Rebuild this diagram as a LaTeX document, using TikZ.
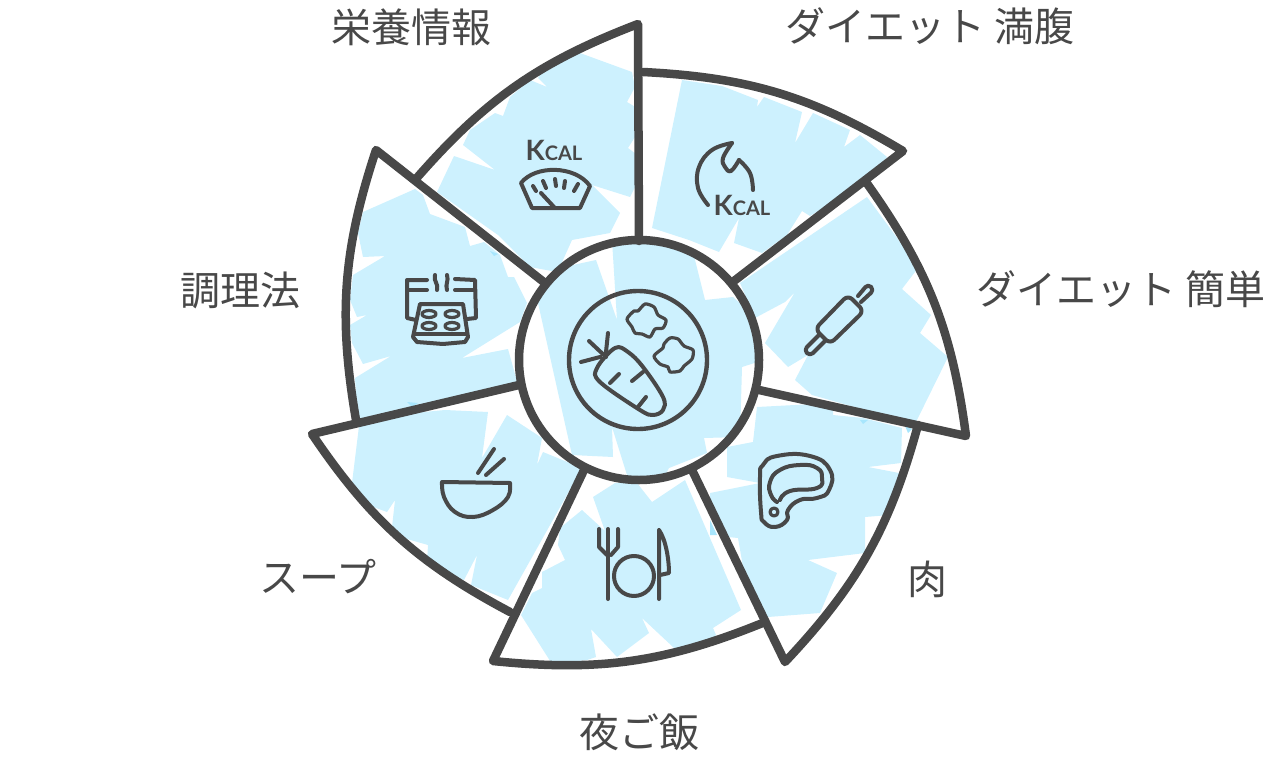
\documentclass[tikz,border=0pt]{standalone}
\usepackage{fontspec}
\newfontfamily\cjk{Noto Sans CJK JP}
\newfontfamily\kcalfont[Scale=1]{Lato Bold}
\definecolor{patchblue}{HTML}{CDF1FE}
\definecolor{spotblue}{HTML}{A8E6FD}
\definecolor{inkgray}{HTML}{484848}
\tikzset{
  patch/.style={fill=patchblue},
  blade/.style={draw=inkgray,line width=8.5pt,line join=round,line cap=round},
  icon/.style={draw=inkgray,line width=4pt,line join=round,line cap=round},
  thinicon/.style={draw=inkgray,line width=3.2pt,line join=round,line cap=round},
  lab/.style={text=inkgray,font=\cjk\fontsize{40}{40}\selectfont,inner sep=0pt},
  kcal/.style={text=inkgray,font=\kcalfont\fontsize{28}{28}\selectfont,inner sep=0pt}
}
\newcommand{\bladefill}[5]{%
  \begin{scope}
    \clip (#1) -- (#2) to[bend right=14] (#3) -- (#4) -- cycle;
    \fill[patch] #5 -- cycle;
  \end{scope}}
\begin{document}
\begin{tikzpicture}[x=1pt,y=-1pt]
    \useasboundingbox (0,0) rectangle (1280,760);

    \coordinate (centre) at (639,360);
    \foreach \n/\p in {1/{639,241},2/{545,283},3/{519,385},4/{585,468},5/{692,470},6/{759,390},7/{734,281}}
    \coordinate (s\n) at (\p);
    \foreach \n/\p in {1/{638,24},2/{376,150},3/{312,434},4/{493,661},5/{785,662},6/{966,436},7/{903,151}}
    \coordinate (t\n) at (\p);
    \foreach \n/\p in {1/{415,180},2/{356,420},3/{510,612},4/{765,622},5/{918,425},6/{866,182},7/{643,72}}
    \coordinate (e\n) at (\p);

    % patches
    \bladefill{s1}{t1}{e1}{s2}{(558,45) -- (538,78) -- (547,87) -- (530,80) -- (510,97) -- (503,116) -- (495,113) -- (470,130) -- (463,145) -- (495,170) -- (454,156) -- (437,192) -- (498,235) -- (530,267) -- (557,272) -- (563,260) -- (572,240) -- (610,233) -- (620,213) -- (592,185) -- (630,197) -- (648,162) -- (640,157) -- (628,148) -- (635,137) -- (637,108) -- (627,102) -- (635,87) -- (632,72)}
    \bladefill{s2}{t2}{e2}{s3}{(415,189) -- (363,212) -- (358,233) -- (363,257) -- (385,256) -- (353,275) -- (350,300) -- (357,317) -- (367,315) -- (350,325) -- (352,343) -- (363,364) -- (391,356) -- (355,378) -- (358,425) -- (520,392) -- (508,349) -- (462,358) -- (520,322) -- (527,303) -- (514,277) -- (508,277) -- (500,255) -- (484,242) -- (470,246) -- (465,227) -- (430,214) -- (423,195)}
    \bladefill{s3}{t3}{e3}{s4}{(360,418) -- (445,410) -- (488,412) -- (482,458) -- (507,415) -- (542,438) -- (537,465) -- (543,452) -- (582,468) -- (508,600) -- (471,585) -- (477,555) -- (464,580) -- (427,562) -- (428,545) -- (400,537) -- (392,527) -- (395,500) -- (387,512) -- (368,505) -- (352,483)}
    \bladefill{s4}{t4}{e4}{s5}{(593,497) -- (615,483) -- (637,483) -- (652,502) -- (685,480) -- (713,545) -- (741,610) -- (713,628) -- (716,635) -- (700,655) -- (683,655) -- (673,647) -- (642,618) -- (649,633) -- (617,657) -- (591,629) -- (596,657) -- (587,660) -- (552,664) -- (521,615) -- (532,593) -- (542,588) -- (542,572) -- (565,560) -- (558,545) -- (560,528) -- (582,510) -- (605,531)}
    \bladefill{s5}{t5}{e5}{s6}{(757,407) -- (753,442) -- (727,447) -- (727,477) -- (760,483) -- (710,493) -- (710,533) -- (728,537) -- (738,538) -- (750,607) -- (753,618) -- (768,617) -- (820,613) -- (837,573) -- (808,560) -- (865,553) -- (865,517) -- (890,515) -- (899,473) -- (868,467) -- (901,463) -- (902,428) -- (863,418) -- (833,415) -- (833,403)}
    \bladefill{s6}{t6}{e6}{s7}{(740,283) -- (867,197) -- (895,235) -- (918,268) -- (902,289) -- (931,315) -- (920,333) -- (948,357) -- (915,424) -- (812,395) -- (795,380) -- (808,355) -- (788,367) -- (765,343) -- (795,292) -- (785,302) -- (755,318)}
    \bladefill{s7}{t7}{e7}{s1}{(682,80) -- (722,86) -- (758,100) -- (757,107) -- (764,97) -- (802,112) -- (795,143) -- (813,113) -- (850,130) -- (844,147) -- (860,135) -- (887,157) -- (870,180) -- (810,216) -- (802,211) -- (787,235) -- (762,253) -- (734,243) -- (739,218) -- (719,252) -- (689,240) -- (652,228)}
    \foreach \ax/\ay/\bx/\by/\cx/\cy in {407/402/418/403/412/407,710/520/717/535/710/535,860/420/868/420/863/424,905/426/912/429/908/433,490/251/498/254/494/256}
    \fill[spotblue] (\ax,\ay) -- (\bx,\by) -- (\cx,\cy) -- cycle;

    % middle disc
    \fill[white] (centre) circle[radius=120];
    \begin{scope}
      \clip (centre) circle[radius=120];
      \fill[patch] (596,260) -- (617,320) -- (612,240) -- (690,240) -- (705,300) -- (733,297) -- (770,330) -- (770,358) -- (742,367) -- (740,437) -- (704,438) -- (707,453) -- (669,468) -- (660,485) -- (640,485) -- (627,475) -- (612,427) -- (613,457) -- (572,455) -- (538,303) -- (550,270) -- cycle;
    \end{scope}

    % blades
    \foreach \a/\b in {1/2,2/3,3/4,4/5,5/6,6/7,7/1}
    \draw[blade] (s\a) -- (t\a) to[bend right=14] (e\a);
    \draw[blade] (centre) circle[radius=120];

    % plate
    \draw[icon,line width=4.4pt] (638,360) circle[radius=69];
    \draw[icon] plot[smooth cycle,tension=.6] coordinates {(615,348) (628,352) (643,367) (663,397) (663,410) (653,415) (640,410) (600,382) (597,368)};
    \draw[icon] (610,383) -- (619,374) (632,381) -- (643,372) (638,407) -- (646,397);
    \draw[icon] (608,333) -- (606,352) (589,341) -- (606,357) (581,362) -- (600,357);
    \draw[thinicon] plot[smooth cycle,tension=.45] coordinates {(634,311) (627,319) (632,327) (635,333) (642,334) (650,337) (655,329) (663,328) (666,320) (658,315) (654,307) (645,304) (638,311)};
    \draw[thinicon] plot[smooth cycle,tension=.45] coordinates {(663,348) (654,356) (660,364) (668,367) (670,372) (680,371) (684,366) (692,359) (693,350) (684,346) (678,339) (670,338) (664,344)};

    % scale
    \node[kcal] (kcala) at (554,150) {K{\fontsize{20}{20}\selectfont CAL}};
    \draw[icon] (521,183) .. controls (535,165) and (575,165) .. (590,186) -- (580,208) -- (532,208) -- cycle;
    \draw[icon] (533,186) -- (536,191) (543,181) -- (546,188) (555,179) -- (556,186) (565,181) -- (564,188) (578,184) -- (574,191) (541,193) -- (554,207);

    % flame
    \draw[icon] plot[smooth,tension=.7] coordinates {(708,205) (698,188) (699,167) (712,150) (732,143)};
    \draw[icon] plot[smooth,tension=.7] coordinates {(732,143) (723,158) (725,167) (731,171) (739,160)};
    \draw[icon] plot[smooth,tension=.7] coordinates {(739,160) (750,173) (753,190)};
    \node[kcal] (kcalb) at (742,205) {K{\fontsize{20}{20}\selectfont CAL}};

    % rolling pin
    \draw[icon,rounded corners=6pt] (848,295) -- (864,311) -- (830,344) -- (815,329) -- cycle;
    \draw[icon,rounded corners=4pt] (858,296) -- (868,284) -- (874,290) -- (861,302);
    \draw[icon,rounded corners=4pt] (825,341) -- (810,356) -- (804,350) -- (819,335);

    % oven
    \draw[icon] (427,280) -- (407,280) -- (407,318) -- (416,320) (455,279) -- (475,280) -- (476,318) -- (467,319);
    \draw[icon] (408,290) -- (427,290) (455,290) -- (475,290);
    \draw[icon] (435,275) .. controls (433,281) and (439,284) .. (437,290) (447,275) .. controls (449,281) and (445,284) .. (447,290);
    \draw[icon] (420,304) -- (463,304) -- (468,337) -- (465,342) -- (443,344) -- (417,342) -- (413,337) -- cycle;
    \draw[icon] (414,334) -- (467,334);
    \foreach \x/\y in {429/314,452/314,429/326,452/326}
    \draw[thinicon] (\x,\y) ellipse[x radius=7,y radius=3.5];

    % bowl
    \draw[icon] (442,482) -- (510,483) plot[smooth,tension=.7] coordinates {(442,482) (444,497) (455,512) (473,517) (493,510) (508,497) (510,483)};
    \draw[icon] (478,473) -- (494,449) (486,475) -- (504,459);

    % cutlery
    \draw[icon] (608,529) -- (608,599);
    \draw[icon] (599,529) -- (599,547) -- (607,555) (618,529) -- (618,547) -- (611,555);
    \draw[icon] (634,576) circle[radius=20];
    \draw[icon] (659,530) -- (659,599) (659,530) .. controls (666,540) and (669,560) .. (669,573) -- (660,575);

    % meat
    \draw[icon] plot[smooth cycle,tension=.85] coordinates {(760,477) (763,465) (777,456) (810,456) (830,470) (829,490) (817,498) (800,500) (788,510) (787,520) (775,527) (764,522) (761,512)};
    \draw[icon] plot[smooth,tension=.85] coordinates {(777,502) (771,495) (770,482) (780,470) (800,465) (817,468) (822,478) (817,488) (790,491) (780,500)};
    \draw[thinicon] (774,512) circle[radius=4];

    % labels
    \node[lab] (nutrition) at (411,27) {栄養情報};
    \node[lab] (filling) at (930,26) {ダイエット 満腹};
    \node[lab] (easy) at (1121,289) {ダイエット 簡単};
    \node[lab] (meat) at (927,579) {肉};
    \node[lab] (dinner) at (639,732) {夜ご飯};
    \node[lab] (soup) at (318,577) {スープ};
    \node[lab] (cooking) at (240,290) {調理法};
\end{tikzpicture}
\end{document}
